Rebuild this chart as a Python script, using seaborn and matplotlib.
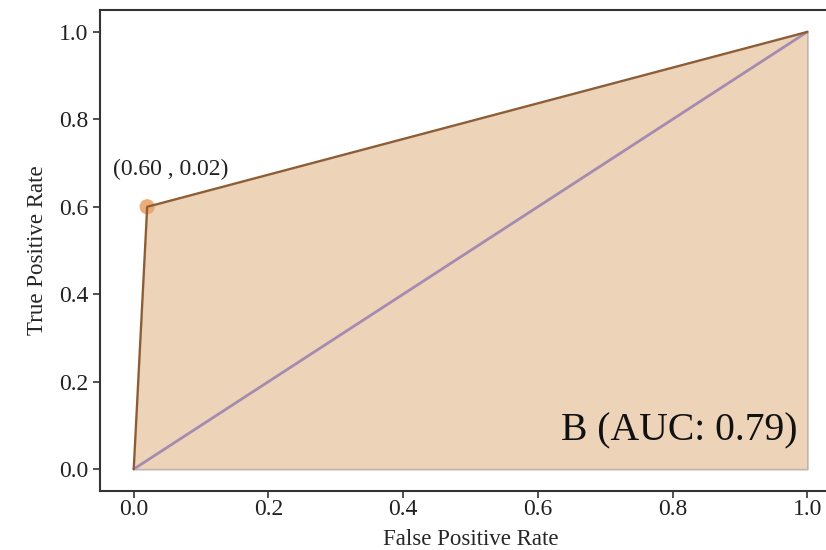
import matplotlib
matplotlib.use("Agg")
import matplotlib.pyplot as plt
import seaborn as sns
import pandas as pd

fpr = [0.0, 0.02, 1.0]
tpr = [0.0, 0.60, 1.0]
diag = [0.0, 1.0]
point_fpr = [0.02]
point_tpr = [0.60]
point_label = "(0.60 , 0.02)"
auc_label = "B (AUC: 0.79)"
xticks = [0.0, 0.2, 0.4, 0.6, 0.8, 1.0]
yticks = [0.0, 0.2, 0.4, 0.6, 0.8, 1.0]

sns.set_style("ticks")
plt.rcParams['font.family'] = ['Liberation Serif', 'DejaVu Serif']

fig = plt.figure(figsize=(8.26, 5.5), dpi=100)
ax = fig.add_axes([100/826, 59/550, 741/826, 481/550])

roc = pd.DataFrame({"fpr": fpr, "tpr": tpr})
dg = pd.DataFrame({"x": diag, "y": diag})

ax.fill_between(fpr, tpr, 0, facecolor="#EDD3B8", edgecolor="#C4B2AE", linewidth=1.2, zorder=1)
sns.lineplot(data=dg, x="x", y="y", ax=ax, color="#A68BB0", linewidth=2, zorder=2)
sns.lineplot(data=roc, x="fpr", y="tpr", ax=ax, color="#8E5C30", linewidth=1.6, zorder=3)
sns.scatterplot(x=point_fpr, y=point_tpr, ax=ax, color="#E8A46C", s=120, edgecolor="none", alpha=0.9, zorder=2.5)

ax.text(-0.03, 0.686, point_label, fontsize=17, ha="left", va="center", color="#222222")
ax.text(0.985, 0.045, auc_label, fontsize=28.5, ha="right", va="bottom", color="#111111")

ax.set_xlim(-0.05, 1.05)
ax.set_ylim(-0.05, 1.05)
ax.set_xticks(xticks)
ax.set_yticks(yticks)
ax.set_xticklabels([f"{t:.1f}" for t in xticks], fontsize=17)
ax.set_yticklabels([f"{t:.1f}" for t in yticks], fontsize=17)
ax.set_xlabel("False Positive Rate", fontsize=16.5, labelpad=6)
ax.set_ylabel("True Positive Rate", fontsize=16.5, labelpad=8)
for s in ax.spines.values():
    s.set_color("#333333")
    s.set_linewidth(1.5)
ax.tick_params(direction="out", length=5, width=1.2, colors="#333333", labelcolor="#222222")
ax.tick_params(axis="x", pad=1)

fig.savefig("out.png", dpi=100)
